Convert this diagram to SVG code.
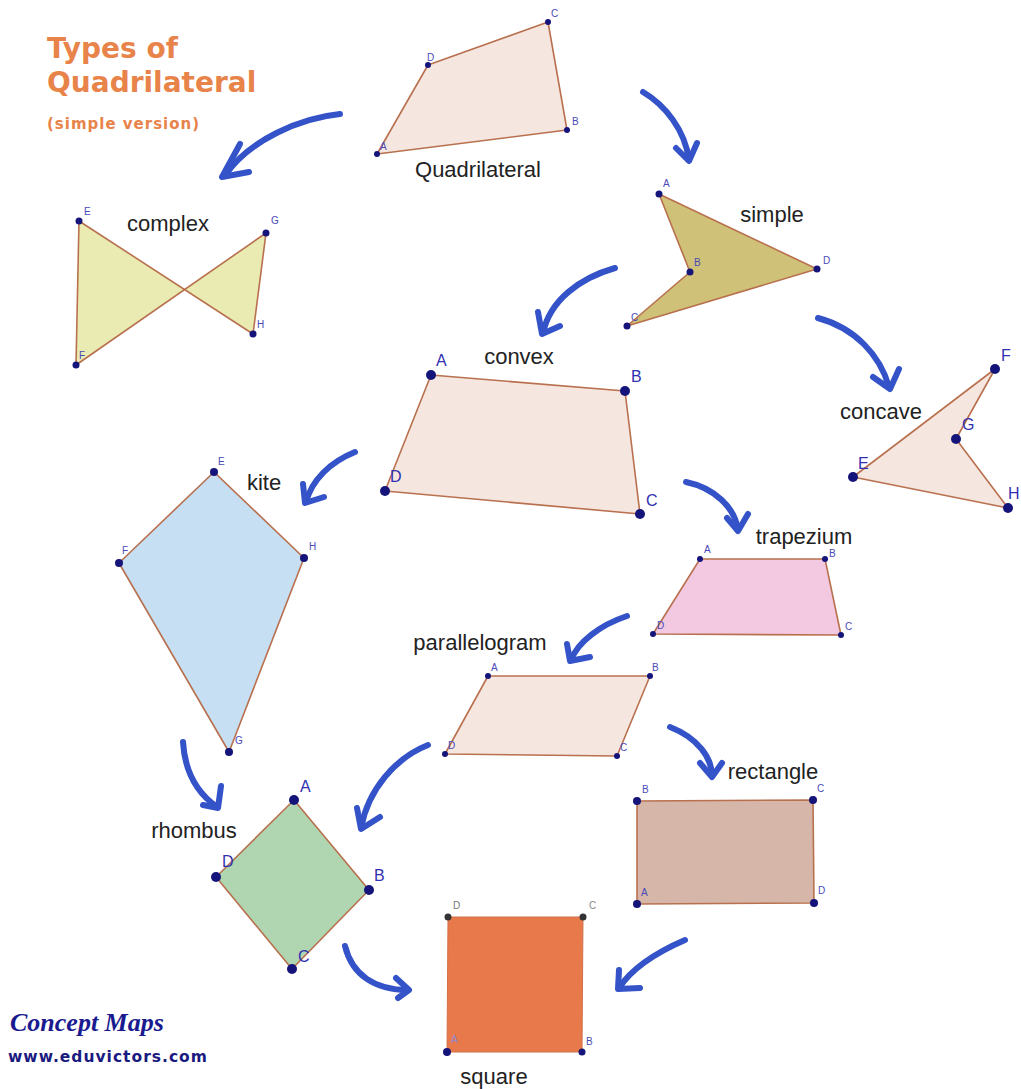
<svg xmlns="http://www.w3.org/2000/svg" width="1021" height="1089" viewBox="0 0 1021 1089">
<style>
.shape{stroke:#b8704e;stroke-width:1.6;stroke-linejoin:round}
.pt{fill:#14147a}
.ps{fill:#4a4ab8;font-family:"Liberation Sans",Arial,sans-serif;font-size:10px}
.pb{fill:#3030b0;font-family:"Liberation Sans",Arial,sans-serif;font-size:16px}
.lbl{fill:#222;font-family:"Liberation Sans",Arial,sans-serif;font-size:22px}
.arr{fill:none;stroke:#3553c8;stroke-width:6;stroke-linecap:round;stroke-linejoin:round}
.title{fill:#e8834a;font-family:"DejaVu Sans",Verdana,sans-serif;font-weight:bold}
</style>
<rect width="1021" height="1089" fill="#ffffff"/>
<g id="title">
<text class="title" x="47" y="58" font-size="28">Types of</text>
<text class="title" x="47" y="92" font-size="28">Quadrilateral</text>
<text class="title" x="47" y="129" font-size="15" letter-spacing="1">(simple version)</text>
</g>
<g id="quadrilateral">
<polygon class="shape" points="377,154 428,65 548,22 567,130" fill="#f6e6e0"/>
<circle class="pt" cx="377" cy="154" r="3"/><circle class="pt" cx="428" cy="65" r="3"/><circle class="pt" cx="548" cy="22" r="3"/><circle class="pt" cx="567" cy="130" r="3"/>
<text class="ps" x="380" y="150">A</text><text class="ps" x="427" y="61">D</text><text class="ps" x="551" y="17">C</text><text class="ps" x="572" y="125">B</text>
<text class="lbl" x="478" y="177" text-anchor="middle">Quadrilateral</text>
</g>
<g id="complex">
<polygon class="shape" points="79,221 253,334 266,233 76,365" fill="#e9ebb2"/>
<circle class="pt" cx="79" cy="221" r="3.5"/><circle class="pt" cx="76" cy="365" r="3.5"/><circle class="pt" cx="266" cy="233" r="3.5"/><circle class="pt" cx="253" cy="334" r="3.5"/>
<text class="ps" x="84" y="215">E</text><text class="ps" x="271" y="224">G</text><text class="ps" x="257" y="328">H</text><text class="ps" x="79" y="359">F</text>
<text class="lbl" x="168" y="231" text-anchor="middle">complex</text>
</g>
<g id="simple">
<polygon class="shape" points="659,194 690,272 627,326 817,269" fill="#cfc177"/>
<circle class="pt" cx="659" cy="194" r="3.5"/><circle class="pt" cx="690" cy="272" r="3.5"/><circle class="pt" cx="627" cy="326" r="3.5"/><circle class="pt" cx="817" cy="269" r="3.5"/>
<text class="ps" x="663" y="187">A</text><text class="ps" x="694" y="266">B</text><text class="ps" x="631" y="321">C</text><text class="ps" x="823" y="264">D</text>
<text class="lbl" x="772" y="222" text-anchor="middle">simple</text>
</g>
<g id="convex">
<polygon class="shape" points="431,375 625,391 640,514 385,491" fill="#f6e6e0"/>
<circle class="pt" cx="431" cy="375" r="5"/><circle class="pt" cx="625" cy="391" r="5"/><circle class="pt" cx="640" cy="514" r="5"/><circle class="pt" cx="385" cy="491" r="5"/>
<text class="pb" x="436" y="366">A</text><text class="pb" x="631" y="382">B</text><text class="pb" x="646" y="506">C</text><text class="pb" x="390" y="482">D</text>
<text class="lbl" x="519" y="364" text-anchor="middle">convex</text>
</g>
<g id="concave">
<polygon class="shape" points="853,477 995,369 956,439 1008,508" fill="#f6e6e0"/>
<circle class="pt" cx="995" cy="369" r="5"/><circle class="pt" cx="956" cy="439" r="5"/><circle class="pt" cx="1008" cy="508" r="5"/><circle class="pt" cx="853" cy="477" r="5"/>
<text class="pb" x="1001" y="361">F</text><text class="pb" x="962" y="430">G</text><text class="pb" x="858" y="469">E</text><text class="pb" x="1008" y="499">H</text>
<text class="lbl" x="881" y="419" text-anchor="middle">concave</text>
</g>
<g id="kite">
<polygon class="shape" points="214,472 304,558 229,752 119,563" fill="#c6dff2"/>
<circle class="pt" cx="214" cy="472" r="4"/><circle class="pt" cx="304" cy="558" r="4"/><circle class="pt" cx="229" cy="752" r="4"/><circle class="pt" cx="119" cy="563" r="4"/>
<text class="ps" x="218" y="465" font-size="11">E</text><text class="ps" x="309" y="550" font-size="11">H</text><text class="ps" x="235" y="744" font-size="11">G</text><text class="ps" x="122" y="554" font-size="11">F</text>
<text class="lbl" x="264" y="490" text-anchor="middle">kite</text>
</g>
<g id="trapezium">
<polygon class="shape" points="700,559 825,559 841,635 653,634" fill="#f2c9e1"/>
<circle class="pt" cx="700" cy="559" r="3"/><circle class="pt" cx="825" cy="559" r="3"/><circle class="pt" cx="841" cy="635" r="3"/><circle class="pt" cx="653" cy="634" r="3"/>
<text class="ps" x="704" y="553" font-size="9">A</text><text class="ps" x="829" y="557" font-size="8">B</text><text class="ps" x="845" y="630" font-size="9">C</text><text class="ps" x="657" y="629" font-size="9">D</text>
<text class="lbl" x="804" y="544" text-anchor="middle">trapezium</text>
</g>
<g id="parallelogram">
<polygon class="shape" points="488,676 650,676 617,756 445,754" fill="#f6e6e0"/>
<circle class="pt" cx="488" cy="676" r="3"/><circle class="pt" cx="650" cy="676" r="3"/><circle class="pt" cx="617" cy="756" r="3"/><circle class="pt" cx="445" cy="754" r="3"/>
<text class="ps" x="491" y="671" font-size="9">A</text><text class="ps" x="652" y="671" font-size="9">B</text><text class="ps" x="620" y="751" font-size="9">C</text><text class="ps" x="448" y="749" font-size="9">D</text>
<text class="lbl" x="480" y="650" text-anchor="middle">parallelogram</text>
</g>
<g id="rhombus">
<polygon class="shape" points="294,800 369,890 292,969 216,877" fill="#b0d5b1"/>
<circle class="pt" cx="294" cy="800" r="5"/><circle class="pt" cx="369" cy="890" r="5"/><circle class="pt" cx="292" cy="969" r="5"/><circle class="pt" cx="216" cy="877" r="5"/>
<text class="pb" x="300" y="792">A</text><text class="pb" x="374" y="881">B</text><text class="pb" x="298" y="962">C</text><text class="pb" x="222" y="867">D</text>
<text class="lbl" x="194" y="838" text-anchor="middle">rhombus</text>
</g>
<g id="rectangle">
<polygon class="shape" points="637,801 813,800 814,903 637,904" fill="#d5b6a9"/>
<circle class="pt" cx="637" cy="801" r="4"/><circle class="pt" cx="813" cy="800" r="4"/><circle class="pt" cx="814" cy="903" r="4"/><circle class="pt" cx="637" cy="904" r="4"/>
<text class="ps" x="642" y="793" font-size="12">B</text><text class="ps" x="817" y="792" font-size="12">C</text><text class="ps" x="818" y="894" font-size="12">D</text><text class="ps" x="641" y="896" font-size="12">A</text>
<text class="lbl" x="773" y="779" text-anchor="middle">rectangle</text>
</g>
<g id="square">
<polygon points="448,917 583,917 582,1052 447,1052" fill="#e8794a" stroke="#d0704a" stroke-width="1"/>
<circle cx="448" cy="917" r="3.5" fill="#333"/><circle cx="583" cy="917" r="3.5" fill="#333"/><circle class="pt" cx="582" cy="1052" r="3.5"/><circle class="pt" cx="447" cy="1052" r="4"/>
<text class="ps" x="453" y="909" style="fill:#777">D</text><text class="ps" x="589" y="909" style="fill:#888">C</text><text class="ps" x="586" y="1045" font-size="11">B</text><text class="ps" x="451" y="1043" style="fill:#8a8ad8">A</text>
<text class="lbl" x="494" y="1084" text-anchor="middle">square</text>
</g>
<g id="connectors">
<path class="arr" d="M340,114 C300,118 250,140 226,174"/><path class="arr" d="M240,144 L222,177 L249,172"/>
<path class="arr" d="M643,92 C665,105 685,130 689,160"/><path class="arr" d="M676,148 L689,161 L697,143"/>
<path class="arr" d="M615,268 C580,278 550,300 543,333"/><path class="arr" d="M538,312 L542,334 L560,326"/>
<path class="arr" d="M818,318 C855,328 880,355 889,387"/><path class="arr" d="M873,377 L890,389 L899,369"/>
<path class="arr" d="M355,452 C330,462 312,480 306,502"/><path class="arr" d="M303,484 L305,503 L324,497"/>
<path class="arr" d="M686,482 C715,488 735,508 738,530"/><path class="arr" d="M727,518 L738,531 L748,514"/>
<path class="arr" d="M627,616 C600,625 578,642 571,660"/><path class="arr" d="M567,644 L570,661 L590,657"/>
<path class="arr" d="M183,742 C185,775 200,795 217,807"/><path class="arr" d="M203,805 L218,808 L221,786"/>
<path class="arr" d="M428,745 C395,758 368,790 361,828"/><path class="arr" d="M357,808 L361,829 L380,817"/>
<path class="arr" d="M670,727 C698,738 712,758 712,776"/><path class="arr" d="M700,763 L712,777 L722,763"/>
<path class="arr" d="M345,946 C352,975 375,990 408,990"/><path class="arr" d="M396,978 L409,990 L398,998"/>
<path class="arr" d="M685,940 C655,953 632,968 619,988"/><path class="arr" d="M619,970 L618,989 L640,988"/>
</g>
<g id="footer">
<text x="10" y="1031" fill="#1a1a90" font-family="'Liberation Serif',serif" font-style="italic" font-weight="bold" font-size="26">Concept Maps</text>
<text x="8" y="1062" fill="#1a1a80" font-family="'DejaVu Sans',Verdana,sans-serif" font-weight="bold" font-size="15.5" letter-spacing="1">www.eduvictors.com</text>
</g>
</svg>
